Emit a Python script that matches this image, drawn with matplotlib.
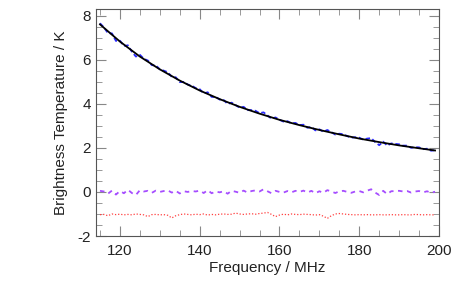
import matplotlib
matplotlib.use("Agg")
from matplotlib import pyplot as plt
from matplotlib.ticker import MultipleLocator

plt.rcParams["font.family"] = ["Liberation Sans", "DejaVu Sans"]
plt.rcParams["axes.unicode_minus"] = False

# frequency grid (MHz) for the measured spectrum
freq = list(range(115, 200))

# measured brightness temperature (blue)
data = [7.65, 7.46, 7.20, 7.19, 6.85, 6.86, 6.62, 6.65, 6.36, 6.14,
        6.22, 6.04, 5.96, 5.75, 5.74, 5.56, 5.50, 5.43, 5.22, 5.20,
        4.98, 4.99, 4.87, 4.82, 4.71, 4.66, 4.47, 4.52, 4.31, 4.31,
        4.19, 4.17, 3.99, 4.05, 3.94, 3.82, 3.86, 3.71, 3.71, 3.68,
        3.57, 3.61, 3.47, 3.32, 3.38, 3.27, 3.19, 3.21, 3.11, 3.13,
        3.03, 3.05, 2.91, 2.95, 2.79, 2.84, 2.73, 2.81, 2.71, 2.60,
        2.64, 2.62, 2.53, 2.46, 2.48, 2.46, 2.37, 2.42, 2.44, 2.26,
        2.12, 2.28, 2.10, 2.20, 2.18, 2.16, 2.10, 2.10, 2.00, 2.03,
        2.02, 1.94, 1.96, 1.87, 1.89]

# smooth fit (black)
fit_freq = [115, 120, 125, 130, 135, 140, 145, 150, 155, 160,
            165, 170, 175, 180, 185, 190, 195, 199]
fit = [7.60, 6.82, 6.14, 5.56, 5.05, 4.60, 4.21, 3.86, 3.55, 3.27,
       3.03, 2.81, 2.61, 2.42, 2.26, 2.11, 1.98, 1.88]

# residuals (purple)
resid = [0.05, 0.02, -0.08, 0.06, -0.12, 0.04, -0.06, 0.10, -0.05, -0.14,
         0.08, 0.02, 0.05, -0.04, 0.06, 0.00, 0.04, 0.07, -0.03, 0.05,
         -0.07, 0.03, 0.00, 0.04, 0.02, 0.06, -0.05, 0.08, -0.06, 0.02,
         -0.02, 0.03, -0.08, 0.05, 0.01, -0.04, 0.06, -0.03, 0.04, 0.07,
         0.02, 0.12, 0.03, -0.06, 0.05, 0.00, -0.03, 0.04, -0.02, 0.05,
         0.00, 0.06, -0.03, 0.05, -0.06, 0.03, -0.04, 0.08, 0.02, -0.05,
         0.03, 0.05, 0.00, -0.04, 0.02, 0.04, -0.02, 0.06, 0.12, -0.03,
         -0.14, 0.05, -0.10, 0.03, 0.04, 0.05, 0.02, 0.04, -0.03, 0.02,
         0.04, -0.02, 0.03, -0.04, 0.01]

# second residual, offset by -1 K (red)
resid2 = [-1.03, -1.02, -1.08, -1.00, -1.03, -1.01, -1.04, -1.02, -1.04, -1.00,
          -1.02, -1.04, -1.12, -1.03, -1.02, -1.04, -1.03, -1.06, -1.18, -1.08,
          -1.03, -1.00, -1.02, -1.04, -1.01, -1.03, -1.00, -1.05, -1.02, -1.04,
          -1.01, -1.00, -1.02, -1.01, -0.96, -1.00, -1.02, -1.00, -0.99, -1.01,
          -0.98, -0.96, -0.93, -1.02, -1.12, -1.05, -1.01, -1.04, -1.00, -1.02,
          -1.03, -1.01, -1.02, -1.03, -1.05, -1.03, -1.10, -1.20, -1.08, -1.00,
          -0.98, -1.00, -1.02, -1.03, -1.04, -1.03, -1.04, -1.03, -1.04, -1.04,
          -1.03, -1.04, -1.04, -1.03, -1.04, -1.04, -1.03, -1.04, -1.04, -1.02,
          -1.03, -1.04, -1.03, -1.04, -1.04]

fig = plt.figure(figsize=(4.58, 2.98), dpi=100)
ax = fig.add_axes([0.2096, 0.208, 0.749, 0.762])

ax.plot(freq, data, color="#2a2aff", lw=1.3, ls=(0, (2.5, 1.5)))
ax.plot(fit_freq, fit, color="black", lw=1.3)
ax.plot(freq, resid, color="#a64dff", lw=1.3, ls=(0, (2.5, 2.5)))
ax.plot(freq, resid2, color="#ff4040", lw=0.9, ls=(0, (1, 1.5)))

ax.set_xlim(114, 200)
ax.set_ylim(-2, 8.3)
ax.xaxis.set_major_locator(MultipleLocator(20))
ax.xaxis.set_minor_locator(MultipleLocator(5))
ax.yaxis.set_major_locator(MultipleLocator(2))
ax.yaxis.set_minor_locator(MultipleLocator(0.5))
ax.tick_params(which="both", direction="in", top=True, right=True,
               color="#888888", labelsize=11, labelcolor="#222222")
ax.tick_params(axis="x", which="major", pad=6)
ax.tick_params(which="major", length=7)
ax.tick_params(which="minor", length=4)
for s in ax.spines.values():
    s.set_color("#555555")
    s.set_linewidth(0.8)

ax.set_xlabel("Frequency / MHz", fontsize=11, labelpad=2, color="#222222")
ax.set_ylabel("Brightness Temperature / K", fontsize=11, labelpad=7,
              color="#222222")

fig.savefig("out.png", dpi=100)
